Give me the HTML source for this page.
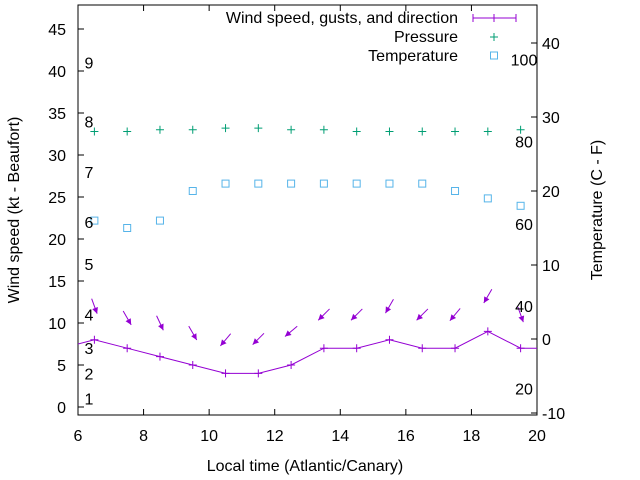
<!DOCTYPE html>
<html><head><meta charset="utf-8"><style>
body{margin:0;background:#fff;}
svg{display:block;font-family:"Liberation Sans",sans-serif;}
</style></head><body>
<svg id="chart" width="640" height="480" viewBox="0 0 640 480" xmlns="http://www.w3.org/2000/svg">
<defs><clipPath id="clip"><rect x="78" y="5" width="459" height="410"/></clipPath></defs>
<g id="grid"></g>
<g id="marks" clip-path="url(#clip)"></g>
<g id="labels"></g>
</svg>
<script>
const hours=[5.5,6.5,7.5,8.5,9.5,10.5,11.5,12.5,13.5,14.5,15.5,16.5,17.5,18.5,19.5,20.5];
const windSpeed=[7,8,7,6,5,4,4,5,7,7,8,7,7,9,7,7];
const ptHours=[6.5,7.5,8.5,9.5,10.5,11.5,12.5,13.5,14.5,15.5,16.5,17.5,18.5,19.5];
const gustSpeed=[12,10.6,10,8.8,8,8.1,9,11,11,12,11,11,13.2,11];
const windDir=[340,330,335,330,40,45,50,45,45,30,45,40,30,340];
const pressure=[32.8,32.8,33.0,33.0,33.2,33.2,33.0,33.0,32.8,32.8,32.8,32.8,32.8,33.0];
const tempC=[16,15,16,20,21,21,21,21,21,21,21,20,19,18];
const leftTicks=[0,5,10,15,20,25,30,35,40,45];
const rightTicks=[-10,0,10,20,30,40];
const xTicks=[6,8,10,12,14,16,18,20];
const beaufort=[1,4,7,11,17,22,28,34,41];
const fahrenheit=[20,40,60,80,100];

const X=v=>78+(v-6)*(459/14);
const YL=v=>407-v*8.4;
const YR=v=>339-v*7.4;
const NS="http://www.w3.org/2000/svg";
const FS=16;
function mk(tag,attrs,parent,text){const e=document.createElementNS(NS,tag);for(const k in attrs)e.setAttribute(k,attrs[k]);if(text!==undefined)e.textContent=text;document.getElementById(parent).appendChild(e);return e;}
const P="#9400d3",G="#009e73",B="#56b4e9";

let e=mk('rect',{x:78,y:5,width:459,height:410,fill:'none',stroke:'#000','stroke-width':1},'grid');

xTicks.forEach(t=>{const x=X(t);
 mk('line',{x1:x,y1:415,x2:x,y2:409,stroke:'#000'},'grid');
 mk('line',{x1:x,y1:5,x2:x,y2:11,stroke:'#000'},'grid');
 e=mk('text',{x:x,y:441,'text-anchor':'middle','font-size':FS},'labels',t);
 });
leftTicks.forEach(t=>{const y=YL(t);
 mk('line',{x1:78,y1:y,x2:84,y2:y,stroke:'#000'},'grid');
 e=mk('text',{x:66,y:y+6,'text-anchor':'end','font-size':FS},'labels',t);
 });
rightTicks.forEach(t=>{const y=YR(t);
 mk('line',{x1:537,y1:y,x2:531,y2:y,stroke:'#000'},'grid');
 e=mk('text',{x:542,y:y+6,'text-anchor':'start','font-size':FS},'labels',t);
 });
beaufort.forEach((v,i)=>{e=mk('text',{x:89,y:YL(v)+6,'text-anchor':'middle','font-size':FS},'labels',i+1);
 });
fahrenheit.forEach(f=>{const c=(f-32)*5/9;e=mk('text',{x:524,y:YR(c)+6,'text-anchor':'middle','font-size':FS},'labels',f);
 });

e=mk('polyline',{points:hours.map((h,i)=>X(h)+','+YL(windSpeed[i])).join(' '),fill:'none',stroke:P,'stroke-width':1},'marks');

hours.forEach((h,i)=>{const x=X(h),y=YL(windSpeed[i]);
 e=mk('path',{d:`M${x-4},${y}h8M${x},${y-4}v8`,stroke:P,fill:'none'},'marks');
 });
ptHours.forEach((h,i)=>{const cx=X(h),cy=YL(gustSpeed[i]);const a=(windDir[i]+180)*Math.PI/180;
 const dx=Math.sin(a),dy=-Math.cos(a),L=8;
 const x1=cx-dx*L,y1=cy-dy*L,x2=cx+dx*L,y2=cy+dy*L;
 const px=-dy,py=dx,hl=6,hw=3;
 const g=document.createElementNS(NS,'g');
 document.getElementById('marks').appendChild(g);
 const l=document.createElementNS(NS,'line');[['x1',x1],['y1',y1],['x2',x2],['y2',y2],['stroke',P]].forEach(([k,v])=>l.setAttribute(k,v));g.appendChild(l);
 const t=document.createElementNS(NS,'polygon');
 t.setAttribute('points',`${x2},${y2} ${x2-dx*hl+px*hw},${y2-dy*hl+py*hw} ${x2-dx*hl-px*hw},${y2-dy*hl-py*hw}`);t.setAttribute('fill',P);g.appendChild(t);});
ptHours.forEach((h,i)=>{const x=X(h),y=YL(pressure[i]);
 e=mk('path',{d:`M${x-4},${y}h8M${x},${y-4}v8`,stroke:G,fill:'none'},'marks');
 });
ptHours.forEach((h,i)=>{const x=X(h),y=YR(tempC[i]);
 e=mk('rect',{x:x-3.5,y:y-3.5,width:7,height:7,stroke:B,fill:'none'},'marks');
 });

e=mk('text',{x:458,y:23,'text-anchor':'end','font-size':FS},'labels','Wind speed, gusts, and direction');

e=mk('path',{d:'M473,18H516M473,14v8M516,14v8M494,14v8',stroke:P,fill:'none'},'labels');

e=mk('text',{x:458,y:42,'text-anchor':'end','font-size':FS},'labels','Pressure');

e=mk('path',{d:'M490,37h8M494,33v8',stroke:G,fill:'none'},'labels');

e=mk('text',{x:458,y:61,'text-anchor':'end','font-size':FS},'labels','Temperature');

e=mk('rect',{x:490.5,y:52,width:7,height:7,stroke:B,fill:'none'},'labels');


e=mk('text',{x:305,y:471,'text-anchor':'middle','font-size':FS},'labels','Local time (Atlantic/Canary)');

e=mk('text',{x:0,y:0,'text-anchor':'middle','font-size':FS,transform:'translate(19,210) rotate(-90)'},'labels','Wind speed (kt - Beaufort)');

e=mk('text',{x:0,y:0,'text-anchor':'middle','font-size':FS,transform:'translate(602,210) rotate(-90)'},'labels','Temperature (C - F)');

</script>
</body></html>
